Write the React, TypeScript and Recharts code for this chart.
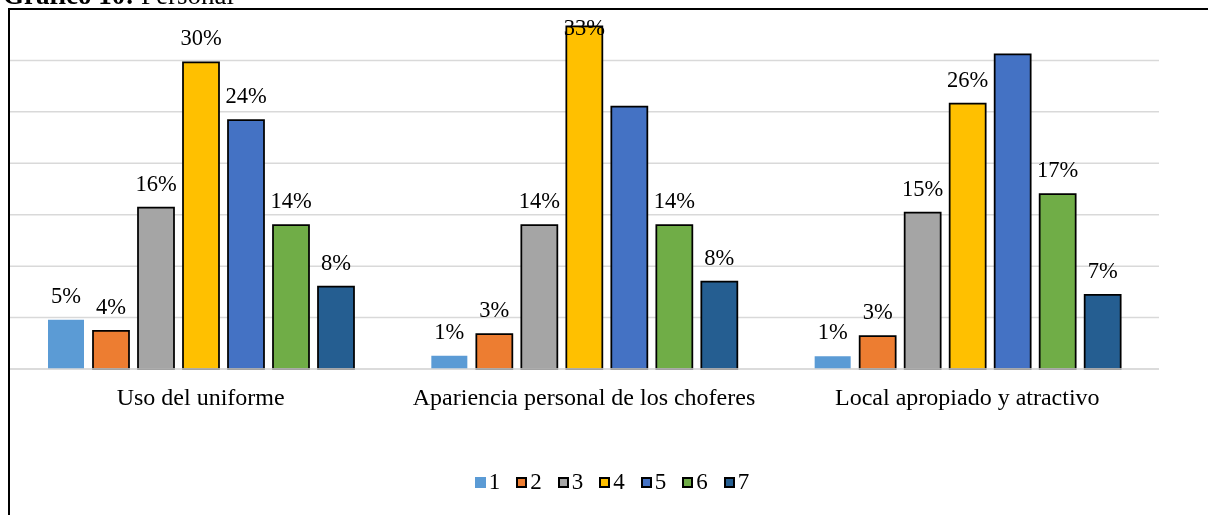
import { BarChart, Bar, XAxis, YAxis, CartesianGrid, Legend, LabelList } from "recharts";

const CATEGORIES = ["Uso del uniforme", "Apariencia personal de los choferes", "Local apropiado y atractivo"];
const SERIES_NAMES = ["1", "2", "3", "4", "5", "6", "7"];
const COLORS = ["#5B9BD5", "#ED7D31", "#A5A5A5", "#FFC000", "#4472C4", "#70AD47", "#255E91"];

const S1 = [4.8, 1.3, 1.25];
const S2 = [3.7, 3.4, 3.2];
const S3 = [15.7, 14.0, 15.2];
const S4 = [29.8, 33.3, 25.8];
const S5 = [24.2, 25.5, 30.6];
const S6 = [14.0, 14.0, 17.0];
const S7 = [8.0, 8.5, 7.2];

const L1 = ["5%", "1%", "1%"];
const L2 = ["4%", "3%", "3%"];
const L3 = ["16%", "14%", "15%"];
const L4 = ["30%", "33%", "26%"];
const L5 = ["24%", "", ""];
const L6 = ["14%", "14%", "17%"];
const L7 = ["8%", "8%", "7%"];

const Y_TICKS = [0, 5, 10, 15, 20, 25, 30, 35];

const VALUES = [S1, S2, S3, S4, S5, S6, S7];
const LABELS = [L1, L2, L3, L4, L5, L6, L7];

const data = CATEGORIES.map((name, i) => {
  const row: Record<string, string | number> = { name };
  VALUES.forEach((s, k) => {
    row[`s${k + 1}`] = s[i];
    row[`l${k + 1}`] = LABELS[k][i];
  });
  return row;
});

const FONT = '"Liberation Serif", "Times New Roman", serif';

const renderLabel = (props: any) => {
  const { x, y, width, value } = props;
  if (!value) return null;
  const ty = Math.max(y - 17, 27);
  return (
    <text x={x + width / 2} y={ty} textAnchor="middle" style={{ fontFamily: FONT }} fontSize={22.5} fill="#000">
      {value}
    </text>
  );
};

const CategoryTick = (props: any) => {
  const { x, y, payload } = props;
  return (
    <text x={x} y={y + 36} textAnchor="middle" style={{ fontFamily: FONT }} fontSize={24} fill="#000">
      {payload.value}
    </text>
  );
};

const renderLegend = () => (
  <div
    style={{
      display: "flex",
      justifyContent: "center",
      alignItems: "center",
      height: 26,
      paddingLeft: 8,
      fontFamily: FONT,
      fontSize: 23,
      color: "#000",
    }}
  >
    {SERIES_NAMES.map((n, i) => (
      <div key={n} style={{ display: "flex", alignItems: "center", marginRight: i < SERIES_NAMES.length - 1 ? 16 : 0 }}>
        <span
          style={{
            display: "inline-block",
            width: 11,
            height: 11,
            boxSizing: "border-box",
            background: COLORS[i],
            border: i === 0 ? "none" : "2px solid #000",
            marginRight: 3,
          }}
        />
        <span style={{ lineHeight: "26px", fontFamily: FONT }}>{n}</span>
      </div>
    ))}
  </div>
);

export default function App() {
  return (
    <div style={{ position: "fixed", left: 8, top: 8, width: 1200, height: 507, overflow: "visible" }}>
      <BarChart
        width={1200}
        height={507}
        data={data}
        margin={{ top: 1, right: 49, left: 1, bottom: 20 }}
        barGap={9}
        barCategoryGap={39}
      >
        <CartesianGrid vertical={false} stroke="#D9D9D9" strokeWidth={1.5} />
        <YAxis hide domain={[0, 35]} ticks={Y_TICKS} />
        <XAxis
          dataKey="name"
          height={100}
          tickSize={0}
          tickMargin={0}
          tickLine={false}
          axisLine={{ stroke: "#D9D9D9", strokeWidth: 1.5 }}
          tick={<CategoryTick />}
        />
        <Legend verticalAlign="bottom" content={renderLegend} wrapperStyle={{ left: 0, width: 1200, height: 26 }} />
        {SERIES_NAMES.map((n, i) => (
          <Bar
            key={n}
            dataKey={`s${i + 1}`}
            name={n}
            fill={COLORS[i]}
            stroke={i === 0 ? "none" : "#000"}
            strokeWidth={1.75}
            isAnimationActive={false}
          >
            <LabelList dataKey={`l${i + 1}`} content={renderLabel} />
          </Bar>
        ))}
      </BarChart>
      <div style={{ position: "absolute", left: 0, top: 0, width: 1200, height: 1.5, background: "#000" }} />
      <div style={{ position: "absolute", left: 0, top: 0, width: 2, height: 507, background: "#000" }} />
      <div
        style={{
          position: "absolute",
          left: -5,
          top: -26,
          fontFamily: FONT,
          fontSize: 27,
          lineHeight: "27px",
          whiteSpace: "nowrap",
          color: "#000",
        }}
      >
        <b>Gráfico 10:</b> Personal
      </div>
    </div>
  );
}
